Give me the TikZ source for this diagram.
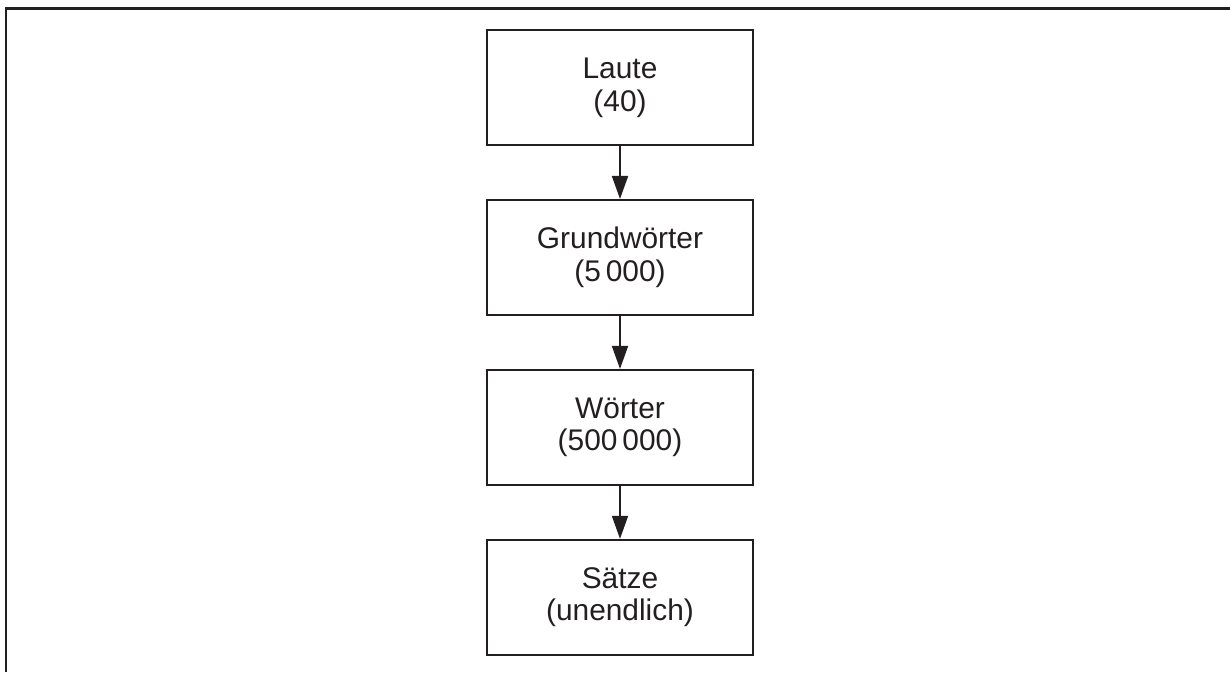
\documentclass[tikz,border=0pt]{standalone}
\usepackage{fontspec}
\setmainfont{Liberation Sans}
\usepackage{xcolor}
\usetikzlibrary{arrows.meta, positioning}
\definecolor{linecolor}{RGB}{35,31,32}

\begin{document}
\begin{tikzpicture}[
    stage/.style={draw=linecolor, line width=1.1pt, minimum width=5.32cm, minimum height=2.3cm, align=center, font=\fontsize{17}{18.6}\selectfont, text=linecolor},
    flow/.style={-{Triangle[length=4.6mm, width=3.2mm]}, line width=1pt, linecolor},
    node distance=1.06cm
]
    \useasboundingbox (0,0) rectangle (24.6,-13.44);
    % Frame
    \coordinate (frametr) at (24.6,-0.17);
    \coordinate (frametl) at (0.12,-0.17);
    \coordinate (framebl) at (0.12,-13.44);
    \draw[linecolor, line width=1.4pt] (frametr) -- (frametl) -- (framebl);

    % Stages
    \node[stage] (laute) at (12.4,-1.75) {Laute\\(40)};
    \node[stage, below=of laute] (grundwoerter) {Grundwörter\\(5\,000)};
    \node[stage, below=of grundwoerter] (woerter) {Wörter\\(500\,000)};
    \node[stage, below=of woerter] (saetze) {Sätze\\(unendlich)};

    % Flows
    \draw[flow] (laute) -- (grundwoerter);
    \draw[flow] (grundwoerter) -- (woerter);
    \draw[flow] (woerter) -- (saetze);
\end{tikzpicture}
\end{document}
